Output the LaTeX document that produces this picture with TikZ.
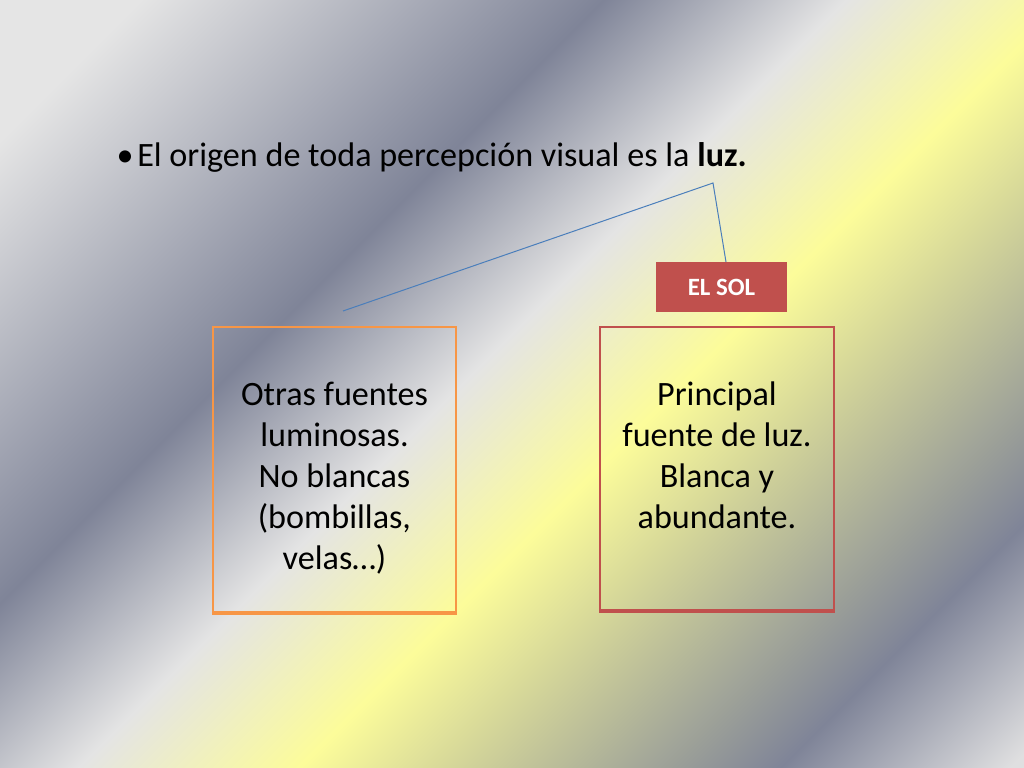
\documentclass[tikz,border=0pt]{standalone}
\usepackage{fontspec}
\setmainfont{Carlito}
\definecolor{cLight}{HTML}{E5E5E5}
\definecolor{cDark}{HTML}{7F8498}
\definecolor{cWhite}{HTML}{E4E4E4}
\definecolor{cYellow}{HTML}{FCFC9A}
\definecolor{cEnd}{HTML}{DFDFE0}
\definecolor{lineblue}{HTML}{4A7EBB}
\definecolor{orangeb}{HTML}{F79646}
\definecolor{redb}{HTML}{C0504D}
\pgfdeclarehorizontalshading{bgshade}{100bp}{color(0bp)=(cLight); color(20bp)=(cLight); color(38.4bp)=(cDark); color(48bp)=(cWhite); color(56.8bp)=(cYellow); color(75.9bp)=(cDark); color(85bp)=(cEnd); color(100bp)=(cEnd)}
\tikzset{
  boxframe/.style={draw=#1, line width=1.2pt, inner sep=0pt},
  boxtext/.style={align=center, font=\fontsize{24}{28.8}\selectfont, inner sep=0pt, text=black},
  connector/.style={draw=lineblue, line width=0.7pt},
  solbox/.style={fill=redb, minimum width={131*0.703125pt}, minimum height={50*0.703125pt}, inner sep=0pt, text=white, font=\fontsize{17.5}{20}\selectfont\bfseries}
}
\begin{document}
\begin{tikzpicture}[x=0.703125pt,y=-0.703125pt]
\useasboundingbox (0,0) rectangle (1024,768);
\shade[shading=bgshade, shading angle=-45] (0,0) rectangle (1024,768);
% title
\node[anchor=base, inner sep=0pt, font=\fontsize{24}{28.8}\selectfont] (bul) at (125,167) {•};
\node[anchor=base west, inner sep=0pt, font=\fontsize{24}{28.8}\selectfont] (title) at (137,167) {El origen de toda percepción visual es la \textbf{luz.}};
% boxes
\node[boxframe=orangeb, minimum width={243*0.703125pt}, minimum height={285*0.703125pt}] (lbox) at (334.5,469.5) {};
\draw[orangeb, line width=2.6pt] (lbox.south west) -- (lbox.south east);
\node[boxframe=redb, minimum width={234*0.703125pt}, minimum height={283*0.703125pt}] (rbox) at (717,468.5) {};
\draw[redb, line width=2.6pt] (rbox.south west) -- (rbox.south east);
\node[boxtext, anchor=base] (ltext) at (334.5,569) {Otras fuentes\\luminosas.\\No blancas\\(bombillas,\\velas…)};
\node[boxtext, anchor=base] (rtext) at (717,528) {Principal\\fuente de luz.\\Blanca y\\abundante.};
% EL SOL
\node[solbox] (sol) at (721.5,287) {EL SOL};
% connector
\coordinate (apex) at (713,183);
\coordinate (leftend) at (343,311);
\coordinate (soltop) at (726,262);
\draw[connector] (leftend) -- (apex) -- (soltop);
\end{tikzpicture}
\end{document}
